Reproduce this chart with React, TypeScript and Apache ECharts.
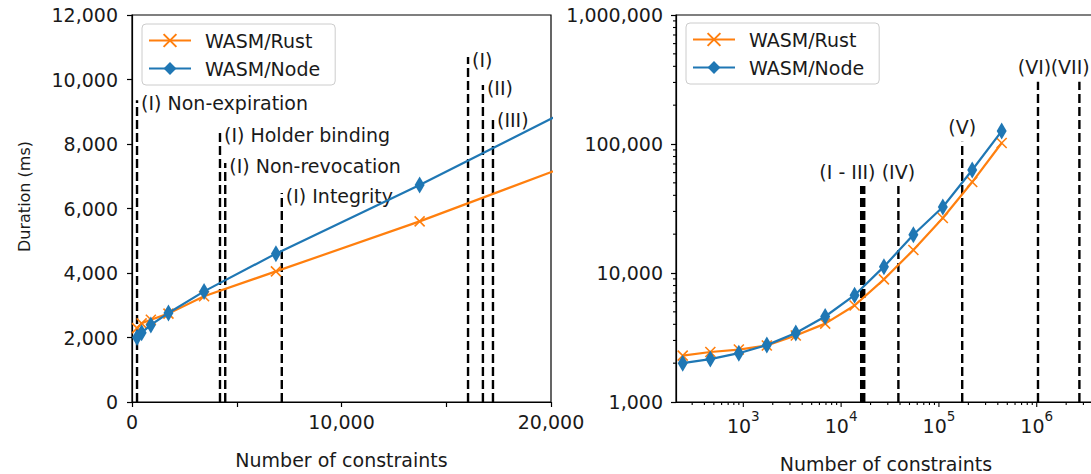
import React, { useEffect, useRef } from "react";
import * as echarts from "echarts";

// ---- data ----
const constraints = [240, 460, 900, 1740, 3440, 6870, 13730, 27400, 54800, 109600, 219000, 438000];
const rustMs = [2290, 2440, 2550, 2740, 3280, 4050, 5600, 8930, 15070, 26700, 50700, 101800];
const nodeMs = [2000, 2150, 2390, 2760, 3430, 4600, 6730, 11200, 19800, 32500, 62900, 126000];

const leftMarkerX = [240, 4200, 4450, 7150, 16040, 16750, 17230];
const leftMarkerTop = [9360, 8370, 7410, 6480, 10700, 9830, 8840];
const leftMarkerLabels = [
  "(I) Non-expiration",
  "(I) Holder binding",
  "(I) Non-revocation",
  "(I) Integrity",
  "(I)",
  "(II)",
  "(III)",
];

const rightMarkerX = [16040, 16750, 17230, 38500, 173000, 1030000, 2730000];
const rightMarkerTop = [47200, 47200, 47200, 47200, 104000, 304000, 304000];
const rightMarkerLabels = ["", "", "(I - III)", "(IV)", "(V)", "(VI)", "(VII)"];
const rightMarkerLabelX = [16040, 16750, 11600, 38500, 173000, 950000, 2200000];

const seriesNames = ["WASM/Rust", "WASM/Node"];
const leftXTicks = [0, 10000, 20000];

const FONT = "DejaVu Sans";
const FS = 19;
const TXT = "#1a1a1a";
const RUST = "#ff7f0e";
const NODE = "#1f77b4";

const RX_MIN = 205;
const RX_MAX = 4036000;
const RY_MIN = 1000;
const RY_MAX = 1000000;

const fmt = (v: number) => Math.round(v).toLocaleString("en-US");

function logTicks(min: number, max: number) {
  const major: number[] = [];
  const minor: number[] = [];
  for (let e = Math.floor(Math.log10(min)); e <= Math.ceil(Math.log10(max)); e++) {
    for (let k = 1; k <= 9; k++) {
      const v = k * Math.pow(10, e);
      if (v < min * 0.9999 || v > max * 1.0001) continue;
      (k === 1 ? major : minor).push(v);
    }
  }
  return { major, minor };
}

function vlineSeries(
  xIdx: number,
  xs: number[],
  tops: number[],
  labels: string[],
  labelXs: number[] | null,
  yBase: number,
  mode: "side" | "above"
) {
  return {
    type: "custom",
    xAxisIndex: xIdx,
    yAxisIndex: xIdx,
    z: 1,
    silent: true,
    clip: false,
    data: xs.map((x, i) => [x, tops[i]]),
    renderItem: (params: any, api: any) => {
      const i = params.dataIndex;
      const x = api.value(0);
      const top = api.value(1);
      const p0 = api.coord([x, yBase]);
      const p1 = api.coord([x, top]);
      const children: any[] = [
        {
          type: "line",
          shape: { x1: p0[0], y1: p0[1], x2: p1[0], y2: p1[1] },
          style: { stroke: "#000", lineWidth: 2.4, lineDash: [9, 4] },
        },
      ];
      if (labels[i]) {
        if (mode === "side") {
          children.push({
            type: "text",
            x: p1[0] + 4,
            y: p1[1] + 3,
            style: {
              text: labels[i],
              fill: TXT,
              fontSize: FS,
              fontFamily: FONT,
              align: "left",
              verticalAlign: "middle",
            },
          });
        } else {
          const lx = api.coord([labelXs ? labelXs[i] : x, top])[0];
          children.push({
            type: "text",
            x: lx,
            y: p1[1] - 5,
            style: {
              text: labels[i],
              fill: TXT,
              fontSize: FS,
              fontFamily: FONT,
              align: "center",
              verticalAlign: "bottom",
            },
          });
        }
      }
      return { type: "group", children };
    },
  };
}

function tickSeries(values: number[][], dir: "x" | "y", len: number) {
  return {
    type: "custom",
    xAxisIndex: 1,
    yAxisIndex: 1,
    z: 5,
    silent: true,
    clip: false,
    data: values,
    renderItem: (params: any, api: any) => {
      const p = api.coord([api.value(0), api.value(1)]);
      const shape =
        dir === "x"
          ? { x1: p[0], y1: p[1], x2: p[0], y2: p[1] + len }
          : { x1: p[0], y1: p[1], x2: p[0] - len, y2: p[1] };
      return { type: "line", shape, style: { stroke: "#000", lineWidth: 1.1 } };
    },
  };
}

export default function App() {
  const ref = useRef<HTMLDivElement>(null);

  useEffect(() => {
    if (!ref.current) return;
    const chart = echarts.init(ref.current, undefined, { renderer: "svg" });

    const rx = logTicks(RX_MIN, RX_MAX);
    const ry = logTicks(RY_MIN, RY_MAX);

    const axisLine = { show: true, lineStyle: { color: "#000", width: 1.2 } };
    const axisTick = { show: true, length: 5, lineStyle: { color: "#000", width: 1.2 } };
    const labelBase = { color: TXT, fontSize: FS, fontFamily: FONT };

    const legendBase = {
      orient: "vertical",
      itemWidth: 42,
      itemHeight: 16,
      itemGap: 9,
      padding: [7, 15, 7, 6],
      backgroundColor: "rgba(255,255,255,0.8)",
      borderColor: "#cccccc",
      borderWidth: 1,
      borderRadius: 4,
      textStyle: { color: TXT, fontSize: FS, fontFamily: FONT, padding: [0, 0, 0, 9] },
      data: seriesNames,
      selectedMode: false,
    };

    const lineSeries = (idx: number) => [
      {
        name: seriesNames[0],
        type: "line",
        xAxisIndex: idx,
        yAxisIndex: idx,
        z: 3,
        data: constraints.map((c, i) => [c, rustMs[i]]),
        symbol: "path://M0,0L10,10M10,0L0,10",
        symbolSize: 10,
        lineStyle: { color: RUST, width: 2.2 },
        itemStyle: { color: RUST, borderColor: RUST, borderWidth: 1.6 },
      },
      {
        name: seriesNames[1],
        type: "line",
        xAxisIndex: idx,
        yAxisIndex: idx,
        z: 4,
        data: constraints.map((c, i) => [c, nodeMs[i]]),
        symbol: "diamond",
        symbolSize: [10, 17],
        lineStyle: { color: NODE, width: 2.2 },
        itemStyle: { color: NODE },
      },
    ];

    const gridBase = {
      top: 15,
      height: 387,
      show: true,
      borderColor: "#000",
      borderWidth: 1.2,
      backgroundColor: "transparent",
      containLabel: false,
      outerBoundsMode: "none",
    };

    chart.setOption({
      animation: false,
      textStyle: { fontFamily: FONT },
      grid: [
        { ...gridBase, left: 132, width: 419 },
        { ...gridBase, left: 676, width: 420 },
      ],
      legend: [
        { ...legendBase, left: 142, top: 24 },
        { ...legendBase, left: 686, top: 23 },
      ],
      xAxis: [
        {
          type: "value",
          gridIndex: 0,
          min: 0,
          max: 20000,
          interval: 5000,
          axisLine,
          axisTick,
          splitLine: { show: false },
          axisLabel: {
            ...labelBase,
            margin: 10,
            showMinLabel: true,
            showMaxLabel: true,
            formatter: (v: number) => (leftXTicks.includes(v) ? fmt(v) : ""),
          },
          name: "Number of constraints",
          nameLocation: "middle",
          nameGap: 48,
          nameTextStyle: { color: TXT, fontSize: FS, fontFamily: FONT },
        },
        {
          type: "log",
          logBase: 10,
          gridIndex: 1,
          min: RX_MIN,
          max: RX_MAX,
          axisLine,
          axisTick: { show: false },
          splitLine: { show: false },
          minorTick: { show: false },
          axisLabel: {
            margin: 7,
            showMinLabel: false,
            showMaxLabel: false,
            formatter: (v: number) => {
              const e = Math.log10(v);
              const r = Math.round(e);
              if (Math.abs(e - r) > 1e-6) return "";
              return `{b|10}{s|${r}}`;
            },
            rich: {
              b: { color: TXT, fontSize: FS, fontFamily: FONT, lineHeight: 26, verticalAlign: "bottom" },
              s: { color: TXT, fontSize: 13.5, fontFamily: FONT, lineHeight: 26, verticalAlign: "top" },
            },
          },
          name: "Number of constraints",
          nameLocation: "middle",
          nameGap: 52,
          nameTextStyle: { color: TXT, fontSize: FS, fontFamily: FONT },
        },
      ],
      yAxis: [
        {
          type: "value",
          gridIndex: 0,
          min: 0,
          max: 12000,
          interval: 2000,
          axisLine,
          axisTick,
          splitLine: { show: false },
          axisLabel: { ...labelBase, margin: 14, formatter: (v: number) => fmt(v) },
          name: "Duration (ms)",
          nameLocation: "middle",
          nameGap: 100,
          nameTextStyle: { color: TXT, fontSize: 16, fontFamily: FONT, padding: [0, 0, 0, 24] },
        },
        {
          type: "log",
          logBase: 10,
          gridIndex: 1,
          min: RY_MIN,
          max: RY_MAX,
          axisLine,
          axisTick,
          splitLine: { show: false },
          axisLabel: { ...labelBase, margin: 13, formatter: (v: number) => fmt(v) },
        },
      ],
      series: [
        vlineSeries(0, leftMarkerX, leftMarkerTop, leftMarkerLabels, null, 0, "side"),
        vlineSeries(1, rightMarkerX, rightMarkerTop, rightMarkerLabels, rightMarkerLabelX, RY_MIN, "above"),
        ...lineSeries(0),
        ...lineSeries(1),
        tickSeries(rx.major.map((v) => [v, RY_MIN]), "x", 5),
        tickSeries(rx.minor.map((v) => [v, RY_MIN]), "x", 3),
        tickSeries(ry.minor.map((v) => [RX_MIN, v]), "y", 3),
      ],
    });

    return () => chart.dispose();
  }, []);

  return (
    <div
      ref={ref}
      style={{ position: "fixed", left: 0, top: 0, width: "1091px", height: "474px", background: "#fff" }}
    />
  );
}
